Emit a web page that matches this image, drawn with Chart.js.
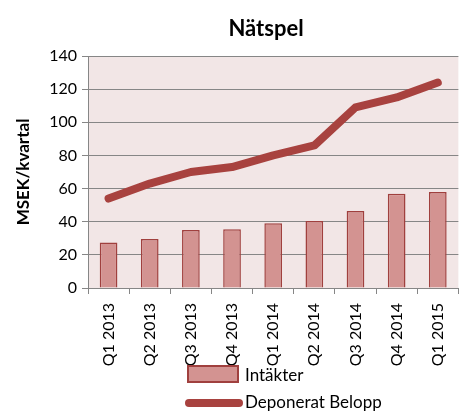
<!DOCTYPE html>
<html>
<head>
<meta charset="utf-8">
<script src="https://cdn.jsdelivr.net/npm/chart.js@4"></script>
<style>
  body { margin: 0; background: #fff; overflow: hidden; }
  #wrap { position: relative; width: 459px; height: 412px; overflow: hidden; font-family: Lato, "Open Sans", sans-serif; }
  #chart { position: absolute; left: 0; top: 0; }
  #title { position: absolute; left: 166px; width: 200px; top: 14px; text-align: center; font-weight: bold; font-size: 22px; color: #000; }
  .leg { position: absolute; left: 185px; height: 22px; font-size: 17px; color: #000; }
  .leg span.sw { position: absolute; }
  .leg span.tx { position: absolute; left: 60px; top: 0; white-space: nowrap; }
</style>
</head>
<body>
<div id="wrap">
  <canvas id="chart" width="466" height="412"></canvas>
  <div id="title">Nätspel</div>
  <div id="legend"></div>
</div>
<script>
// data
const quarters = ["Q1 2013", "Q2 2013", "Q3 2013", "Q4 2013", "Q1 2014", "Q2 2014", "Q3 2014", "Q4 2014", "Q1 2015"];
const intakter = [27.5, 29.5, 35, 35.5, 39, 40.5, 46.5, 56.8, 58];
const deponerat = [54, 63, 70, 73, 80, 86, 109, 115, 124];
const seriesNames = ["Intäkter", "Deponerat Belopp"];
const yMax = 140;
const yStep = 20;

const barFill = "#D39391";
const barBorder = "#A0403E";
const lineColor = "#A8423F";
const plotBg = "#F2E6E6";
const gridColor = "#868686";

//fills the plot area before anything else is drawn
const plotBackground = {
    id: "plotBackground",
    beforeDraw(chart) {
        const a = chart.chartArea;
        const ctx = chart.ctx;
        ctx.save();
        ctx.fillStyle = plotBg;
        ctx.fillRect(a.left, a.top, a.right - a.left, a.bottom - a.top);
        ctx.restore();
    }
};

const tickFont = { family: "Lato", size: 16 };

new Chart(document.getElementById("chart"), {
    type: "bar",
    data: {
        labels: quarters,
        datasets: [
            {
                type: "line",
                label: seriesNames[1],
                data: deponerat,
                borderColor: lineColor,
                backgroundColor: lineColor,
                borderWidth: 8,
                borderCapStyle: "round",
                borderJoinStyle: "round",
                pointRadius: 0,
                tension: 0,
                order: 0
            },
            {
                label: seriesNames[0],
                data: intakter,
                backgroundColor: barFill,
                borderColor: barBorder,
                borderWidth: 1.5,
                categoryPercentage: 1,
                barPercentage: 0.43,
                order: 1
            }
        ]
    },
    options: {
        responsive: false,
        animation: false,
        layout: { padding: { top: 56, bottom: 44, right: 0 } },
        plugins: {
            legend: { display: false },
            tooltip: { enabled: false }
        },
        scales: {
            x: {
                grid: { drawOnChartArea: false, color: gridColor, tickLength: 6, offset: true },
                border: { color: gridColor },
                ticks: { font: tickFont, color: "#000", minRotation: 90, maxRotation: 90, padding: 9 },
                afterFit(scale) { scale.height = 80; }
            },
            y: {
                min: 0,
                max: yMax,
                ticks: { stepSize: yStep, font: tickFont, color: "#000", padding: 5 },
                grid: { color: gridColor, tickLength: 6 },
                border: { color: gridColor },
                title: {
                    display: true,
                    text: "MSEK/kvartal",
                    font: { family: "Lato", size: 17, weight: "bold" },
                    color: "#000",
                    padding: { top: 13, bottom: 0 }
                },
                afterFit(scale) { scale.width = 88; }
            }
        }
    },
    plugins: [plotBackground]
});

//legend stacked in two rows like the original
const legend = document.getElementById("legend");
legend.innerHTML =
    '<div class="leg" style="top:364px"><span class="sw" style="left:2px;top:1px;width:48px;height:14px;background:' + barFill + ';border:2px solid ' + barBorder + '"></span><span class="tx">' + seriesNames[0] + '</span></div>' +
    '<div class="leg" style="top:391px"><span class="sw" style="left:0;top:8px;width:58px;height:8px;border-radius:4px;background:' + lineColor + '"></span><span class="tx">' + seriesNames[1] + '</span></div>';
</script>
</body>
</html>
